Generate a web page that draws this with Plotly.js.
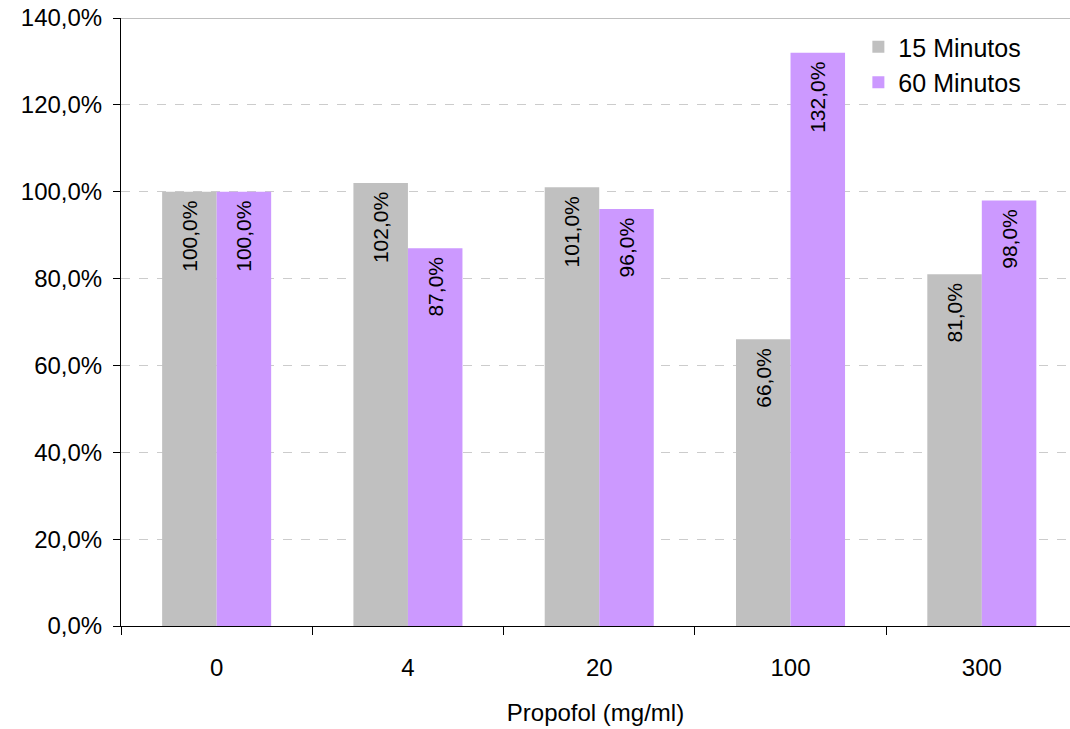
<!DOCTYPE html>
<html>
<head>
<meta charset="utf-8">
<script src="https://cdn.plot.ly/plotly-3.0.1.min.js"></script>
<style>html,body{margin:0;padding:0;background:#fff;}#chart{width:1070px;height:729px;}</style>
</head>
<body>
<div id="chart"></div>
<script>
const categories = ["0", "4", "20", "100", "300"];
const series15 = [100, 102, 101, 66, 81];
const series60 = [100, 87, 96, 132, 98];
const seriesNames = ["15 Minutos", "60 Minutos"];
const yTickVals = [0, 20, 40, 60, 80, 100, 120, 140];
const yTickText = ["0,0%", "20,0%", "40,0%", "60,0%", "80,0%", "100,0%", "120,0%", "140,0%"];

const font = "'Liberation Sans', Arial, sans-serif";
function barTrace(vals, name, color) {
  return {
    type: "bar", x: categories, y: vals, name: name,
    marker: {color: color, line: {width: 0}},
    texttemplate: " %{y:.1f}% ",
    textposition: "inside", insidetextanchor: "end", textangle: -90,
    insidetextfont: {family: font, size: 21, color: "#000"},
    cliponaxis: false, hoverinfo: "skip"
  };
}
const data = [barTrace(series15, seriesNames[0], "#C0C0C0"), barTrace(series60, seriesNames[1], "#CC99FF")];
const layout = {
  width: 1070, height: 729,
  margin: {l: 121, r: 0, t: 18, b: 103},
  paper_bgcolor: "#fff", plot_bgcolor: "#fff",
  separators: ",.",
  font: {family: font, size: 24, color: "#000"},
  barmode: "group", bargap: 0.43, bargroupgap: 0,
  showlegend: true,
  legend: {x: 0.777, y: 0.99, xanchor: "left", yanchor: "top", font: {family: font, size: 25, color: "#000"}, bgcolor: "rgba(0,0,0,0)", itemwidth: 30, tracegroupgap: 0},
  xaxis: {
    type: "category", range: [-0.5, 4.461], tickson: "boundaries", ticks: "outside", ticklen: 8, tickcolor: "#000",
    showline: true, linecolor: "#000", linewidth: 1, showgrid: false,
    ticklabelstandoff: 20,
    tickfont: {family: font, size: 24, color: "#000"},
    title: {text: "Propofol (mg/ml)", font: {family: font, size: 24, color: "#000"}, standoff: 24}
  },
  yaxis: {
    range: [0, 140], tickvals: yTickVals, ticktext: yTickText,
    ticks: "outside", ticklen: 7, tickcolor: "#000",
    showline: true, linecolor: "#000", linewidth: 1,
    showgrid: true, gridcolor: "#cccccc", griddash: "dash", gridwidth: 1,
    zeroline: false, ticklabelstandoff: 6,
    tickfont: {family: font, size: 24, color: "#000"}
  },
  shapes: [{type: "line", xref: "paper", yref: "y", x0: 0, x1: 1, y0: 140, y1: 140, line: {color: "#808080", width: 1}}]
};
Plotly.newPlot("chart", data, layout, {staticPlot: true, displayModeBar: false});
</script>
</body>
</html>
